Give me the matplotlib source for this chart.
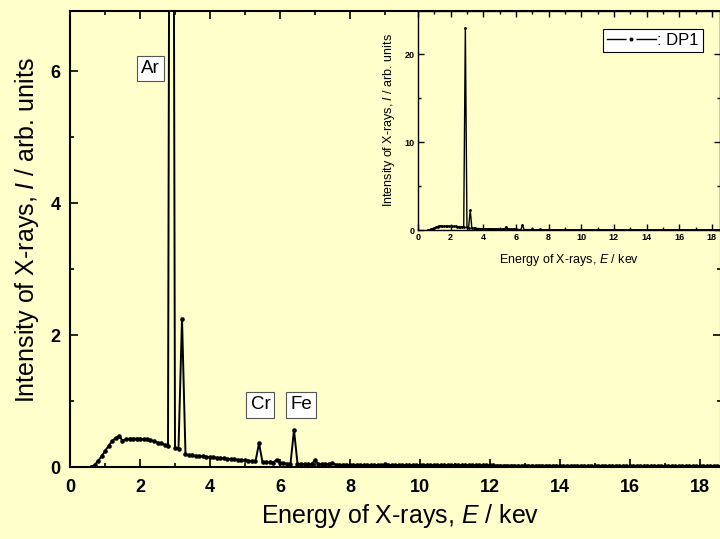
import matplotlib
matplotlib.use("Agg")
import matplotlib.pyplot as plt
from matplotlib.lines import Line2D
from matplotlib.ticker import MultipleLocator

plt.rcParams['font.family'] = ['Liberation Sans', 'DejaVu Sans']
plt.rcParams['mathtext.fontset'] = 'custom'
plt.rcParams['mathtext.rm'] = 'Liberation Sans'
plt.rcParams['mathtext.it'] = 'Liberation Sans:italic'

# ---------------- data (EDX spectrum, DP1) ----------------
energy_kev = [
    0.6, 0.7, 0.8, 0.9,
    1.0, 1.1, 1.2, 1.3, 1.4, 1.5, 1.6, 1.7, 1.8, 1.9,
    2.0, 2.1, 2.2, 2.3, 2.4, 2.5, 2.6, 2.7, 2.8, 2.9,
    3.0, 3.1, 3.2, 3.3, 3.4, 3.5, 3.6, 3.7, 3.8, 3.9,
    4.0, 4.1, 4.2, 4.3, 4.4, 4.5, 4.6, 4.7, 4.8, 4.9,
    5.0, 5.1, 5.2, 5.3, 5.4, 5.5, 5.6, 5.7, 5.8, 5.9,
    6.0, 6.1, 6.2, 6.3, 6.4, 6.5, 6.6, 6.7, 6.8, 6.9,
    7.0, 7.1, 7.2, 7.3, 7.4, 7.5, 7.6, 7.7, 7.8, 7.9,
    8.0, 8.1, 8.2, 8.3, 8.4, 8.5, 8.6, 8.7, 8.8, 8.9,
    9.0, 9.1, 9.2, 9.3, 9.4, 9.5, 9.6, 9.7, 9.8, 9.9,
    10.0, 10.1, 10.2, 10.3, 10.4, 10.5, 10.6, 10.7, 10.8, 10.9,
    11.0, 11.1, 11.2, 11.3, 11.4, 11.5, 11.6, 11.7, 11.8, 11.9,
    12.0, 12.1, 12.2, 12.3, 12.4, 12.5, 12.6, 12.7, 12.8, 12.9,
    13.0, 13.1, 13.2, 13.3, 13.4, 13.5, 13.6, 13.7, 13.8, 13.9,
    14.0, 14.1, 14.2, 14.3, 14.4, 14.5, 14.6, 14.7, 14.8, 14.9,
    15.0, 15.1, 15.2, 15.3, 15.4, 15.5, 15.6, 15.7, 15.8, 15.9,
    16.0, 16.1, 16.2, 16.3, 16.4, 16.5, 16.6, 16.7, 16.8, 16.9,
    17.0, 17.1, 17.2, 17.3, 17.4, 17.5, 17.6, 17.7, 17.8, 17.9,
    18.0, 18.1, 18.2, 18.3, 18.4, 18.5, 18.6,
]
intensity = [
    0.00, 0.03, 0.09, 0.16,
    0.24, 0.32, 0.39, 0.44, 0.47, 0.40, 0.42, 0.43, 0.43, 0.43,
    0.43, 0.42, 0.42, 0.41, 0.39, 0.37, 0.36, 0.34, 0.32, 23.0,
    0.29, 0.28, 2.25, 0.19, 0.18, 0.175, 0.17, 0.165, 0.16, 0.155,
    0.15, 0.145, 0.14, 0.135, 0.13, 0.125, 0.12, 0.115, 0.11, 0.105,
    0.10, 0.095, 0.09, 0.085, 0.36, 0.075, 0.07, 0.07, 0.065, 0.11,
    0.06, 0.055, 0.05, 0.05, 0.56, 0.05, 0.045, 0.045, 0.045, 0.045,
    0.10, 0.04, 0.04, 0.04, 0.04, 0.06, 0.035, 0.035, 0.034, 0.034,
    0.033, 0.033, 0.032, 0.032, 0.032, 0.031, 0.031, 0.031, 0.030, 0.030,
    0.038, 0.030, 0.029, 0.029, 0.029, 0.028, 0.028, 0.028, 0.028, 0.027,
    0.027, 0.027, 0.027, 0.026, 0.026, 0.026, 0.026, 0.025, 0.025, 0.025,
    0.025, 0.025, 0.024, 0.024, 0.024, 0.024, 0.024, 0.023, 0.023, 0.023,
    0.023, 0.023, 0.022, 0.022, 0.022, 0.022, 0.022, 0.022, 0.021, 0.021,
    0.021, 0.021, 0.021, 0.021, 0.020, 0.020, 0.020, 0.020, 0.020, 0.020,
    0.020, 0.019, 0.019, 0.019, 0.019, 0.019, 0.019, 0.019, 0.019, 0.019,
    0.019, 0.019, 0.019, 0.018, 0.018, 0.018, 0.018, 0.018, 0.018, 0.018,
    0.018, 0.018, 0.018, 0.018, 0.018, 0.018, 0.018, 0.018, 0.017, 0.017,
    0.017, 0.017, 0.017, 0.017, 0.017, 0.017, 0.017, 0.017, 0.017, 0.017,
    0.017, 0.017, 0.017, 0.017, 0.017, 0.017, 0.017,
]
peak_labels = ["Ar", "Cr", "Fe"]
peak_label_x = [2.3, 5.44, 6.6]
peak_label_y = [6.04, 0.94, 0.94]
series_name = "DP1"

BG = '#FFFFCC'
fig = plt.figure(figsize=(7.2, 5.39), dpi=100, facecolor=BG)

# ---------------- main axes ----------------
ax = fig.add_axes([70/720, 72/539, 651/720, 456/539])
ax.set_facecolor(BG)
ax.plot(energy_kev, intensity, '-o', color='black', lw=1.4, ms=3.3,
        markeredgewidth=0)
ax.set_xlim(0, 18.6)
ax.set_ylim(0, 6.91)
ax.xaxis.set_major_locator(MultipleLocator(2))
ax.xaxis.set_minor_locator(MultipleLocator(1))
ax.yaxis.set_major_locator(MultipleLocator(2))
ax.yaxis.set_minor_locator(MultipleLocator(1))
ax.tick_params(which='both', direction='in', top=True, right=True, width=1.2,
               labelsize=13, pad=7)
ax.tick_params(axis='x', which='both', pad=9)
ax.tick_params(which='major', length=6)
ax.tick_params(which='minor', length=3)
for s in ax.spines.values():
    s.set_linewidth(1.5)
plt.setp(ax.get_xticklabels(), fontweight='bold')
plt.setp(ax.get_yticklabels(), fontweight='bold')
ax.set_xlabel(r'Energy of X-rays, $\mathit{E}$ / kev', fontsize=18)
ax.xaxis.label.set_va('baseline')
ax.xaxis.set_label_coords(0.507, (16 - 72) / 456)
ax.set_ylabel(r'Intensity of X-rays, $\mathit{I}$ / arb. units', fontsize=18)
ax.yaxis.label.set_va('baseline')
ax.yaxis.set_label_coords((34 - 70) / 651, 0.52)

for lab, x, y in zip(peak_labels, peak_label_x, peak_label_y):
    ax.text(x, y, lab, fontsize=13.5, ha='center', va='center',
            bbox=dict(boxstyle='square,pad=0.22', facecolor='white',
                      edgecolor='#555555', linewidth=0.8))

# ---------------- inset ----------------
axi = fig.add_axes([418/720, 309/539, 302/720, 219/539])
axi.set_facecolor(BG)
axi.plot(energy_kev, intensity, '-o', color='black', lw=1.0, ms=2.0,
         markeredgewidth=0)
axi.set_xlim(0, 18.5)
axi.set_ylim(0, 24.9)
axi.xaxis.set_major_locator(MultipleLocator(2))
axi.xaxis.set_minor_locator(MultipleLocator(1))
axi.yaxis.set_major_locator(MultipleLocator(10))
axi.yaxis.set_minor_locator(MultipleLocator(5))
axi.tick_params(which='both', direction='in', top=True, right=True, width=1.0,
                labelsize=6.5, pad=2.5)
axi.tick_params(which='major', length=4)
axi.tick_params(which='minor', length=2)
for s in axi.spines.values():
    s.set_linewidth(1.0)
plt.setp(axi.get_xticklabels(), fontweight='bold')
plt.setp(axi.get_yticklabels(), fontweight='bold')
axi.set_xlabel(r'Energy of X-rays, $\mathit{E}$ / kev', fontsize=9, labelpad=7)
axi.set_ylabel(r'Intensity of X-rays, $\mathit{I}$ / arb. units', fontsize=9, labelpad=5)
axi.text(0.5, 1.0 + 15/219, r'Energy of X-rays, $\mathit{E}$ / kev', fontsize=9,
         ha='center', va='baseline', transform=axi.transAxes, clip_on=False)

handle = Line2D([], [], color='black', lw=1.0, marker='o', ms=5.0,
                markerfacecolor='black', markeredgecolor='white',
                markeredgewidth=2.1)
leg = axi.legend([handle], [': ' + series_name], loc='upper left',
                 bbox_to_anchor=(603/720, 1 - 29/539),
                 bbox_transform=fig.transFigure, fontsize=12,
                 frameon=True, fancybox=False, framealpha=1,
                 handlelength=2.9, handletextpad=0.1, borderpad=0.25,
                 borderaxespad=0, numpoints=1)
leg.get_frame().set_edgecolor('black')
leg.get_frame().set_linewidth(0.8)
leg.get_frame().set_facecolor('white')

fig.savefig('out.png', dpi=100, facecolor=BG)
